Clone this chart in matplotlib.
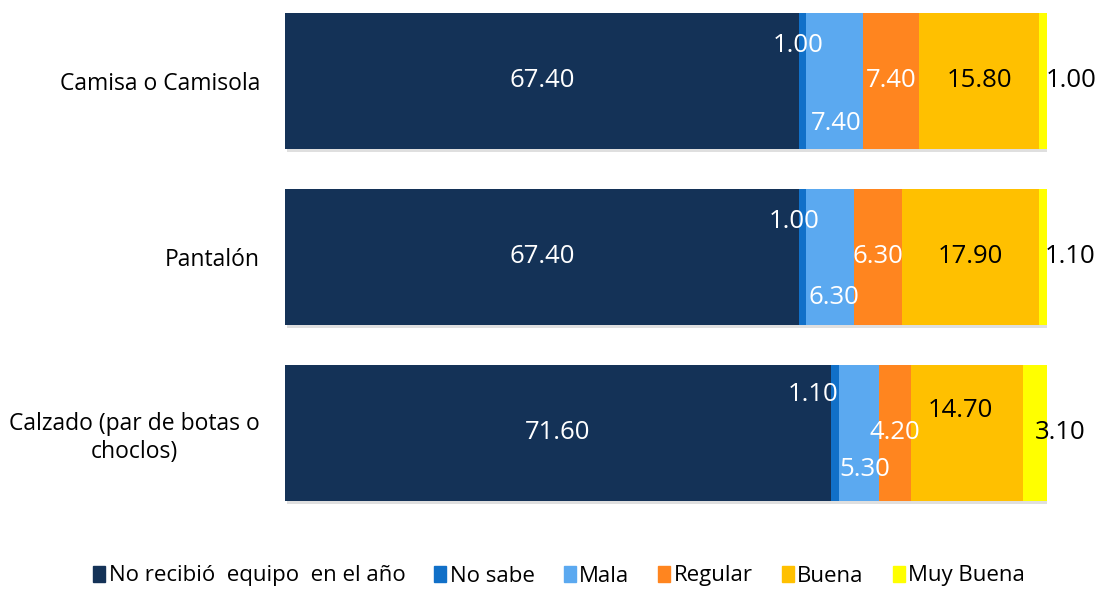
import matplotlib.pyplot as plt
import matplotlib.patheffects as pe
import numpy as np

plt.rcParams['font.family'] = ['Open Sans', 'DejaVu Sans']

categories = ["Camisa o Camisola", "Pantalón", "Calzado (par de botas o\nchoclos)"]
series = ["No recibió  equipo  en el año", "No sabe", "Mala", "Regular", "Buena", "Muy Buena"]
no_recibio = [67.4, 67.4, 71.6]
no_sabe = [1.0, 1.0, 1.1]
mala = [7.4, 6.3, 5.3]
regular = [7.4, 6.3, 4.2]
buena = [15.8, 17.9, 14.7]
muy_buena = [1.0, 1.1, 3.1]

colors = ["#143257", "#1170C8", "#5BA9F0", "#FF851F", "#FFC000", "#FFFF00"]
text_colors = ["white", "white", "white", "white", "black", "black"]

# label nudges (x in data units, y in category units), mimicking Excel's placement
offsets = {
    (0, 1): (-0.6, -0.20), (0, 2): (0.3, 0.24), (0, 5): (3.7, 0.0),
    (1, 1): (-1.1, -0.20), (1, 2): (0.5, 0.23), (1, 5): (3.6, 0.0),
    (2, 1): (-2.8, -0.22), (2, 2): (0.7, 0.21), (2, 4): (-0.9, -0.13), (2, 5): (3.3, 0.0),
}

values = [no_recibio, no_sabe, mala, regular, buena, muy_buena]

fig = plt.figure(figsize=(11.07, 5.91), dpi=100)
ax = fig.add_axes([285 / 1107, 1 - 521 / 591, 762 / 1107, 521 / 591])

y = np.arange(len(categories))
left = np.zeros(len(categories))
shadow = [pe.SimplePatchShadow(offset=(1.5, -2.5), alpha=0.25, shadow_rgbFace="gray"), pe.Normal()]
for s, vals in enumerate(values):
    bars = ax.barh(y, vals, left=left, height=0.773, color=colors[s], label=series[s])
    for b in bars:
        b.set_path_effects(shadow)
    for i, v in enumerate(vals):
        dx, dy = offsets.get((i, s), (0, 0))
        ax.text(left[i] + v / 2 + dx, y[i] + dy, f"{v:.2f}", ha="center", va="center",
                color=text_colors[s], fontsize=18.5)
    left += np.array(vals)

ax.set_xlim(0, 100)
ax.set_ylim(2.5, -0.46)
ax.set_yticks(y)
ax.set_yticklabels(categories, fontsize=16.5, multialignment="center")
ax.tick_params(axis="y", length=0, pad=18)
ax.set_xticks([])
for sp in ax.spines.values():
    sp.set_visible(False)

handles = [plt.Rectangle((0, 0), 1, 1, color=c) for c in colors]
fig.legend(handles, series, loc="center", bbox_to_anchor=(0.505, 1 - 576 / 591),
           ncol=6, frameon=False, fontsize=16, handlelength=0.55, handleheight=0.7,
           handletextpad=0.15, columnspacing=1.3)

fig.savefig("out.png", dpi=100)
